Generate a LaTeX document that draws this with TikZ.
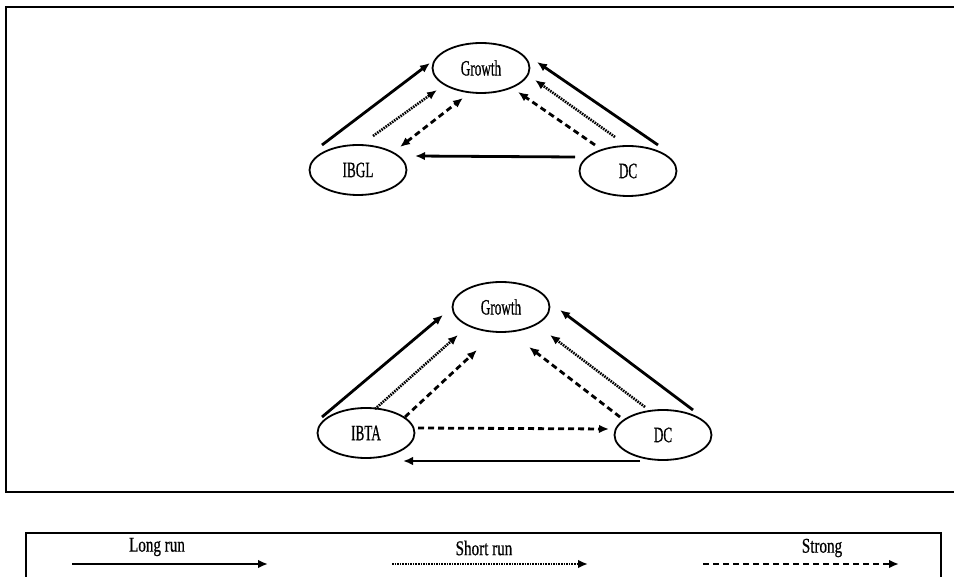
\documentclass[tikz,border=0pt]{standalone}
\usepackage{fontspec}
\setmainfont{Liberation Serif}[FakeStretch=0.6,FakeBold=0.6]
\newfontfamily\legendfont{Liberation Serif}[FakeStretch=0.72,FakeBold=0.6]
\usetikzlibrary{shapes.geometric,arrows.meta}

\begin{document}
\begin{tikzpicture}[x=1pt,y=-1pt,
  var/.style={ellipse,draw,line width=1.8pt,minimum width=97pt,minimum height=50pt,
    inner sep=0pt,font=\fontsize{22}{22}\selectfont},
  headtip/.style={-{Latex[length=10pt,width=8.5pt]}},
  longrun/.style={headtip,line width=2.8pt},
  shortrun/.style={headtip,line width=2.6pt,dash pattern=on 1.6pt off 1pt},
  strong/.style={headtip,line width=2.8pt,dash pattern=on 6pt off 4pt},
  bothtips/.style={{Latex[length=10pt,width=8.5pt]}-{Latex[length=10pt,width=8.5pt]}},
  frame/.style={line width=2.2pt},
  legendlabel/.style={font=\legendfont\fontsize{21}{21}\selectfont,inner sep=0pt}]

\useasboundingbox (0,0) rectangle (954,577);
\clip (0,0) rectangle (954,577);

% outer frame and legend frame
\draw[frame] (970,7) -- (6,7) -- (6,492) -- (970,492);
\draw[frame] (26,600) -- (26,533) -- (941,533) -- (941,600);

% upper triangle
\node[var] (g1)   at (481,68)  {Growth};
\node[var] (ibgl) at (358,170) {IBGL};
\node[var] (dc1)  at (628,171) {DC};

\draw[longrun]  ([shift={(-36,-25)}]ibgl.center) -- ([shift={(-51,-5)}]g1.center);
\draw[shortrun] ([shift={(15,-34)}]ibgl.center)  -- ([shift={(-44,22)}]g1.center);
\draw[strong,bothtips] ([shift={(42,-23)}]ibgl.center) -- ([shift={(-18,30)}]g1.center);
\draw[longrun]  ([shift={(30,-26)}]dc1.center)   -- ([shift={(56,-6)}]g1.center);
\draw[shortrun] ([shift={(-13,-34)}]dc1.center)  -- ([shift={(54,12)}]g1.center);
\draw[strong]   ([shift={(-33,-26)}]dc1.center)  -- ([shift={(37,24)}]g1.center);
\draw[longrun]  ([shift={(-53,-14)}]dc1.center)  -- ([shift={(57,-14)}]ibgl.center);

% lower triangle
\node[var] (g2)   at (501,307) {Growth};
\node[var] (ibta) at (366,433) {IBTA};
\node[var] (dc2)  at (663,435) {DC};

\draw[longrun]  ([shift={(-44,-16)}]ibta.center) -- ([shift={(-58,8)}]g2.center);
\draw[shortrun] ([shift={(9,-24)}]ibta.center)   -- ([shift={(-43,28)}]g2.center);
\draw[strong]   ([shift={(39,-16)}]ibta.center)  -- ([shift={(-24,43)}]g2.center);
\draw[longrun]  ([shift={(30,-25)}]dc2.center)   -- ([shift={(59,3)}]g2.center);
\draw[shortrun] ([shift={(-18,-28)}]dc2.center)  -- ([shift={(49,28)}]g2.center);
\draw[strong]   ([shift={(-43,-18)}]dc2.center)  -- ([shift={(28,40)}]g2.center);
\draw[strong]   ([shift={(52,-5)}]ibta.center)   -- ([shift={(-54,-6)}]dc2.center);
\draw[longrun]  ([shift={(-23,26)}]dc2.center)   -- ([shift={(37,28)}]ibta.center);

% legend
\node[legendlabel] (lrlabel) at (157,547) {Long run};
\node[legendlabel] (srlabel) at (484,548) {Short run};
\node[legendlabel] (stlabel) at (822,548) {Strong};
\coordinate (lra) at (72,564);  \coordinate (lrb) at (268,564);
\coordinate (sra) at (392,564); \coordinate (srb) at (588,564);
\coordinate (sta) at (703,564); \coordinate (stb) at (899,564);
\draw[longrun]  (lra) -- (lrb);
\draw[shortrun] (sra) -- (srb);
\draw[strong]   (sta) -- (stb);
\end{tikzpicture}
\end{document}
